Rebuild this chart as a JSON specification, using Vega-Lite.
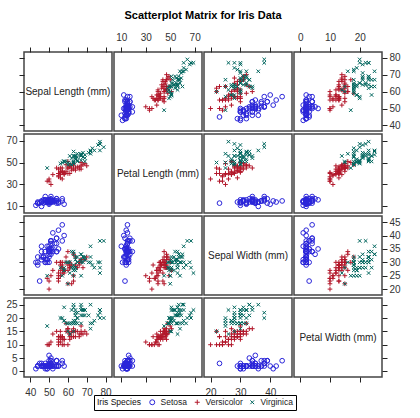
{
"$schema": "https://vega.github.io/schema/vega-lite/v6.json",
"background": "white",
"padding": {"left": 5, "top": 10, "right": 5, "bottom": 4},
"title": {"text": "Scatterplot Matrix for Iris Data", "anchor": "middle", "font": "Liberation Sans", "fontSize": 11, "fontWeight": "bold", "color": "#000", "offset": 10},
"data": {"name": "iris", "values": [
{"Species":"Setosa","SL":51,"SW":35,"PL":14,"PW":2},{"Species":"Setosa","SL":49,"SW":30,"PL":14,"PW":2},{"Species":"Setosa","SL":47,"SW":32,"PL":13,"PW":2},{"Species":"Setosa","SL":46,"SW":31,"PL":15,"PW":2},{"Species":"Setosa","SL":50,"SW":36,"PL":14,"PW":2},
{"Species":"Setosa","SL":54,"SW":39,"PL":17,"PW":4},{"Species":"Setosa","SL":46,"SW":34,"PL":14,"PW":3},{"Species":"Setosa","SL":50,"SW":34,"PL":15,"PW":2},{"Species":"Setosa","SL":44,"SW":29,"PL":14,"PW":2},{"Species":"Setosa","SL":49,"SW":31,"PL":15,"PW":1},
{"Species":"Setosa","SL":54,"SW":37,"PL":15,"PW":2},{"Species":"Setosa","SL":48,"SW":34,"PL":16,"PW":2},{"Species":"Setosa","SL":48,"SW":30,"PL":14,"PW":1},{"Species":"Setosa","SL":43,"SW":30,"PL":11,"PW":1},{"Species":"Setosa","SL":58,"SW":40,"PL":12,"PW":2},
{"Species":"Setosa","SL":57,"SW":44,"PL":15,"PW":4},{"Species":"Setosa","SL":54,"SW":39,"PL":13,"PW":4},{"Species":"Setosa","SL":51,"SW":35,"PL":14,"PW":3},{"Species":"Setosa","SL":57,"SW":38,"PL":17,"PW":3},{"Species":"Setosa","SL":51,"SW":38,"PL":15,"PW":3},
{"Species":"Setosa","SL":54,"SW":34,"PL":17,"PW":2},{"Species":"Setosa","SL":51,"SW":37,"PL":15,"PW":4},{"Species":"Setosa","SL":46,"SW":36,"PL":10,"PW":2},{"Species":"Setosa","SL":51,"SW":33,"PL":17,"PW":5},{"Species":"Setosa","SL":48,"SW":34,"PL":19,"PW":2},
{"Species":"Setosa","SL":50,"SW":30,"PL":16,"PW":2},{"Species":"Setosa","SL":50,"SW":34,"PL":16,"PW":4},{"Species":"Setosa","SL":52,"SW":35,"PL":15,"PW":2},{"Species":"Setosa","SL":52,"SW":34,"PL":14,"PW":2},{"Species":"Setosa","SL":47,"SW":32,"PL":16,"PW":2},
{"Species":"Setosa","SL":48,"SW":31,"PL":16,"PW":2},{"Species":"Setosa","SL":54,"SW":34,"PL":15,"PW":4},{"Species":"Setosa","SL":52,"SW":41,"PL":15,"PW":1},{"Species":"Setosa","SL":55,"SW":42,"PL":14,"PW":2},{"Species":"Setosa","SL":49,"SW":31,"PL":15,"PW":2},
{"Species":"Setosa","SL":50,"SW":32,"PL":12,"PW":2},{"Species":"Setosa","SL":55,"SW":35,"PL":13,"PW":2},{"Species":"Setosa","SL":49,"SW":36,"PL":14,"PW":1},{"Species":"Setosa","SL":44,"SW":30,"PL":13,"PW":2},{"Species":"Setosa","SL":51,"SW":34,"PL":15,"PW":2},
{"Species":"Setosa","SL":50,"SW":35,"PL":13,"PW":3},{"Species":"Setosa","SL":45,"SW":23,"PL":13,"PW":3},{"Species":"Setosa","SL":44,"SW":32,"PL":13,"PW":2},{"Species":"Setosa","SL":50,"SW":35,"PL":16,"PW":6},{"Species":"Setosa","SL":51,"SW":38,"PL":19,"PW":4},
{"Species":"Setosa","SL":48,"SW":30,"PL":14,"PW":3},{"Species":"Setosa","SL":51,"SW":38,"PL":16,"PW":2},{"Species":"Setosa","SL":46,"SW":32,"PL":14,"PW":2},{"Species":"Setosa","SL":53,"SW":37,"PL":15,"PW":2},{"Species":"Setosa","SL":50,"SW":33,"PL":14,"PW":2},
{"Species":"Versicolor","SL":70,"SW":32,"PL":47,"PW":14},{"Species":"Versicolor","SL":64,"SW":32,"PL":45,"PW":15},{"Species":"Versicolor","SL":69,"SW":31,"PL":49,"PW":15},{"Species":"Versicolor","SL":55,"SW":23,"PL":40,"PW":13},{"Species":"Versicolor","SL":65,"SW":28,"PL":46,"PW":15},
{"Species":"Versicolor","SL":57,"SW":28,"PL":45,"PW":13},{"Species":"Versicolor","SL":63,"SW":33,"PL":47,"PW":16},{"Species":"Versicolor","SL":49,"SW":24,"PL":33,"PW":10},{"Species":"Versicolor","SL":66,"SW":29,"PL":46,"PW":13},{"Species":"Versicolor","SL":52,"SW":27,"PL":39,"PW":14},
{"Species":"Versicolor","SL":50,"SW":20,"PL":35,"PW":10},{"Species":"Versicolor","SL":59,"SW":30,"PL":42,"PW":15},{"Species":"Versicolor","SL":60,"SW":22,"PL":40,"PW":10},{"Species":"Versicolor","SL":61,"SW":29,"PL":47,"PW":14},{"Species":"Versicolor","SL":56,"SW":29,"PL":36,"PW":13},
{"Species":"Versicolor","SL":67,"SW":31,"PL":44,"PW":14},{"Species":"Versicolor","SL":56,"SW":30,"PL":45,"PW":15},{"Species":"Versicolor","SL":58,"SW":27,"PL":41,"PW":10},{"Species":"Versicolor","SL":62,"SW":22,"PL":45,"PW":15},{"Species":"Versicolor","SL":56,"SW":25,"PL":39,"PW":11},
{"Species":"Versicolor","SL":59,"SW":32,"PL":48,"PW":18},{"Species":"Versicolor","SL":61,"SW":28,"PL":40,"PW":13},{"Species":"Versicolor","SL":63,"SW":25,"PL":49,"PW":15},{"Species":"Versicolor","SL":61,"SW":28,"PL":47,"PW":12},{"Species":"Versicolor","SL":64,"SW":29,"PL":43,"PW":13},
{"Species":"Versicolor","SL":66,"SW":30,"PL":44,"PW":14},{"Species":"Versicolor","SL":68,"SW":28,"PL":48,"PW":14},{"Species":"Versicolor","SL":67,"SW":30,"PL":50,"PW":17},{"Species":"Versicolor","SL":60,"SW":29,"PL":45,"PW":15},{"Species":"Versicolor","SL":57,"SW":26,"PL":35,"PW":10},
{"Species":"Versicolor","SL":55,"SW":24,"PL":38,"PW":11},{"Species":"Versicolor","SL":55,"SW":24,"PL":37,"PW":10},{"Species":"Versicolor","SL":58,"SW":27,"PL":39,"PW":12},{"Species":"Versicolor","SL":60,"SW":27,"PL":51,"PW":16},{"Species":"Versicolor","SL":54,"SW":30,"PL":45,"PW":15},
{"Species":"Versicolor","SL":60,"SW":34,"PL":45,"PW":16},{"Species":"Versicolor","SL":67,"SW":31,"PL":47,"PW":15},{"Species":"Versicolor","SL":63,"SW":23,"PL":44,"PW":13},{"Species":"Versicolor","SL":56,"SW":30,"PL":41,"PW":13},{"Species":"Versicolor","SL":55,"SW":25,"PL":40,"PW":13},
{"Species":"Versicolor","SL":55,"SW":26,"PL":44,"PW":12},{"Species":"Versicolor","SL":61,"SW":30,"PL":46,"PW":14},{"Species":"Versicolor","SL":58,"SW":26,"PL":40,"PW":12},{"Species":"Versicolor","SL":50,"SW":23,"PL":33,"PW":10},{"Species":"Versicolor","SL":56,"SW":27,"PL":42,"PW":13},
{"Species":"Versicolor","SL":57,"SW":30,"PL":42,"PW":12},{"Species":"Versicolor","SL":57,"SW":29,"PL":42,"PW":13},{"Species":"Versicolor","SL":62,"SW":29,"PL":43,"PW":13},{"Species":"Versicolor","SL":51,"SW":25,"PL":30,"PW":11},{"Species":"Versicolor","SL":57,"SW":28,"PL":41,"PW":13},
{"Species":"Virginica","SL":63,"SW":33,"PL":60,"PW":25},{"Species":"Virginica","SL":58,"SW":27,"PL":51,"PW":19},{"Species":"Virginica","SL":71,"SW":30,"PL":59,"PW":21},{"Species":"Virginica","SL":63,"SW":29,"PL":56,"PW":18},{"Species":"Virginica","SL":65,"SW":30,"PL":58,"PW":22},
{"Species":"Virginica","SL":76,"SW":30,"PL":66,"PW":21},{"Species":"Virginica","SL":49,"SW":25,"PL":45,"PW":17},{"Species":"Virginica","SL":73,"SW":29,"PL":63,"PW":18},{"Species":"Virginica","SL":67,"SW":25,"PL":58,"PW":18},{"Species":"Virginica","SL":72,"SW":36,"PL":61,"PW":25},
{"Species":"Virginica","SL":65,"SW":32,"PL":51,"PW":20},{"Species":"Virginica","SL":64,"SW":27,"PL":53,"PW":19},{"Species":"Virginica","SL":68,"SW":30,"PL":55,"PW":21},{"Species":"Virginica","SL":57,"SW":25,"PL":50,"PW":20},{"Species":"Virginica","SL":58,"SW":28,"PL":51,"PW":24},
{"Species":"Virginica","SL":64,"SW":32,"PL":53,"PW":23},{"Species":"Virginica","SL":65,"SW":30,"PL":55,"PW":18},{"Species":"Virginica","SL":77,"SW":38,"PL":67,"PW":22},{"Species":"Virginica","SL":77,"SW":26,"PL":69,"PW":23},{"Species":"Virginica","SL":60,"SW":22,"PL":50,"PW":15},
{"Species":"Virginica","SL":69,"SW":32,"PL":57,"PW":23},{"Species":"Virginica","SL":56,"SW":28,"PL":49,"PW":20},{"Species":"Virginica","SL":77,"SW":28,"PL":67,"PW":20},{"Species":"Virginica","SL":63,"SW":27,"PL":49,"PW":18},{"Species":"Virginica","SL":67,"SW":33,"PL":57,"PW":21},
{"Species":"Virginica","SL":72,"SW":32,"PL":60,"PW":18},{"Species":"Virginica","SL":62,"SW":28,"PL":48,"PW":18},{"Species":"Virginica","SL":61,"SW":30,"PL":49,"PW":18},{"Species":"Virginica","SL":64,"SW":28,"PL":56,"PW":21},{"Species":"Virginica","SL":72,"SW":30,"PL":58,"PW":16},
{"Species":"Virginica","SL":74,"SW":28,"PL":61,"PW":19},{"Species":"Virginica","SL":79,"SW":38,"PL":64,"PW":20},{"Species":"Virginica","SL":64,"SW":28,"PL":56,"PW":22},{"Species":"Virginica","SL":63,"SW":28,"PL":51,"PW":15},{"Species":"Virginica","SL":61,"SW":26,"PL":56,"PW":14},
{"Species":"Virginica","SL":77,"SW":30,"PL":61,"PW":23},{"Species":"Virginica","SL":63,"SW":34,"PL":56,"PW":24},{"Species":"Virginica","SL":64,"SW":31,"PL":55,"PW":18},{"Species":"Virginica","SL":60,"SW":30,"PL":48,"PW":18},{"Species":"Virginica","SL":69,"SW":31,"PL":54,"PW":21},
{"Species":"Virginica","SL":67,"SW":31,"PL":56,"PW":24},{"Species":"Virginica","SL":69,"SW":31,"PL":51,"PW":23},{"Species":"Virginica","SL":58,"SW":27,"PL":51,"PW":19},{"Species":"Virginica","SL":68,"SW":32,"PL":59,"PW":23},{"Species":"Virginica","SL":67,"SW":33,"PL":57,"PW":25},
{"Species":"Virginica","SL":67,"SW":30,"PL":52,"PW":23},{"Species":"Virginica","SL":63,"SW":25,"PL":50,"PW":19},{"Species":"Virginica","SL":65,"SW":30,"PL":52,"PW":20},{"Species":"Virginica","SL":62,"SW":34,"PL":54,"PW":23},{"Species":"Virginica","SL":59,"SW":30,"PL":51,"PW":18}
]},
"columns": 4,
"spacing": {"row": 3, "column": 2},
"bounds": "flush",
"resolve": {"scale": {"x": "independent", "y": "independent"}, "axis": {"x": "independent", "y": "independent"}},
"concat": [
{"width": 88, "height": 79, "data": {"values": [{"label": "Sepal Length (mm)"}]}, "mark": {"type": "text", "font": "Liberation Sans", "fontSize": 10, "color": "#222"},
 "encoding": {"text": {"field": "label"},
  "x": {"datum": 60, "type": "quantitative", "scale": {"domain": [36.7, 83.4], "nice": false, "zero": false}, "axis": {"orient": "top", "values": [40,50,60,70,80], "labels": false, "title": null}},
  "y": {"datum": 60, "type": "quantitative", "scale": {"domain": [36.7, 83.4], "nice": false, "zero": false}, "axis": {"orient": "left", "values": [40,50,60,70,80], "labels": false, "title": null}}}},
{"width": 88, "height": 79, "mark": "point", "encoding": {
  "x": {"field": "PL", "type": "quantitative", "scale": {"domain": [4, 76], "nice": false, "zero": false}, "axis": {"orient": "top", "values": [10,30,50,70], "labelPadding": 5, "title": null}},
  "y": {"field": "SL", "type": "quantitative", "scale": {"domain": [36.7, 83.4], "nice": false, "zero": false}, "axis": null},
  "color": {"field": "Species", "type": "nominal", "scale": {"domain": ["Setosa","Versicolor","Virginica"], "range": ["#2A25D9","#B2182B","#01665E"]}, "legend": {"title": "Iris Species", "orient": "none", "legendX": 70, "legendY": 343, "direction": "horizontal", "titleOrient": "left"}},
  "shape": {"field": "Species", "type": "nominal", "scale": {"domain": ["Setosa","Versicolor","Virginica"], "range": ["circle","M-1,0H1M0,-1V1","M-0.75,-0.75L0.75,0.75M0.75,-0.75L-0.75,0.75"]}, "legend": {"title": "Iris Species", "orient": "none", "legendX": 70, "legendY": 343, "direction": "horizontal", "titleOrient": "left"}}}},
{"width": 88, "height": 79, "mark": "point", "encoding": {
  "x": {"field": "SW", "type": "quantitative", "scale": {"domain": [17.8, 47.3], "nice": false, "zero": false}, "axis": {"orient": "top", "values": [20,30,40], "labels": false, "title": null}},
  "y": {"field": "SL", "type": "quantitative", "scale": {"domain": [36.7, 83.4], "nice": false, "zero": false}, "axis": null},
  "color": {"field": "Species", "type": "nominal"},
  "shape": {"field": "Species", "type": "nominal"}}},
{"width": 88, "height": 79, "mark": "point", "encoding": {
  "x": {"field": "PW", "type": "quantitative", "scale": {"domain": [-2.1, 27.5], "nice": false, "zero": false}, "axis": {"orient": "top", "values": [0,10,20], "labelPadding": 5, "title": null}},
  "y": {"field": "SL", "type": "quantitative", "scale": {"domain": [36.7, 83.4], "nice": false, "zero": false}, "axis": {"orient": "right", "values": [40,50,60,70,80], "labelPadding": 2, "title": null}},
  "color": {"field": "Species", "type": "nominal"},
  "shape": {"field": "Species", "type": "nominal"}}},

{"width": 88, "height": 79, "mark": "point", "encoding": {
  "x": {"field": "SL", "type": "quantitative", "scale": {"domain": [36.7, 83.4], "nice": false, "zero": false}, "axis": null},
  "y": {"field": "PL", "type": "quantitative", "scale": {"domain": [4, 76], "nice": false, "zero": false}, "axis": {"orient": "left", "values": [10,30,50,70], "labelPadding": 2, "title": null}},
  "color": {"field": "Species", "type": "nominal"},
  "shape": {"field": "Species", "type": "nominal"}}},
{"width": 88, "height": 79, "data": {"values": [{"label": "Petal Length (mm)"}]}, "mark": {"type": "text", "font": "Liberation Sans", "fontSize": 10, "color": "#222"},
 "encoding": {"text": {"field": "label"},
  "x": {"datum": 40, "type": "quantitative", "scale": {"domain": [4, 76], "nice": false, "zero": false}, "axis": null},
  "y": {"datum": 40, "type": "quantitative", "scale": {"domain": [4, 76], "nice": false, "zero": false}, "axis": null}}},
{"width": 88, "height": 79, "mark": "point", "encoding": {
  "x": {"field": "SW", "type": "quantitative", "scale": {"domain": [17.8, 47.3], "nice": false, "zero": false}, "axis": null},
  "y": {"field": "PL", "type": "quantitative", "scale": {"domain": [4, 76], "nice": false, "zero": false}, "axis": null},
  "color": {"field": "Species", "type": "nominal"},
  "shape": {"field": "Species", "type": "nominal"}}},
{"width": 88, "height": 79, "mark": "point", "encoding": {
  "x": {"field": "PW", "type": "quantitative", "scale": {"domain": [-2.1, 27.5], "nice": false, "zero": false}, "axis": null},
  "y": {"field": "PL", "type": "quantitative", "scale": {"domain": [4, 76], "nice": false, "zero": false}, "axis": {"orient": "right", "values": [10,30,50,70], "labels": false, "title": null}},
  "color": {"field": "Species", "type": "nominal"},
  "shape": {"field": "Species", "type": "nominal"}}},

{"width": 88, "height": 79, "mark": "point", "encoding": {
  "x": {"field": "SL", "type": "quantitative", "scale": {"domain": [36.7, 83.4], "nice": false, "zero": false}, "axis": null},
  "y": {"field": "SW", "type": "quantitative", "scale": {"domain": [17.8, 47.3], "nice": false, "zero": false}, "axis": {"orient": "left", "values": [20,25,30,35,40,45], "labels": false, "title": null}},
  "color": {"field": "Species", "type": "nominal"},
  "shape": {"field": "Species", "type": "nominal"}}},
{"width": 88, "height": 79, "mark": "point", "encoding": {
  "x": {"field": "PL", "type": "quantitative", "scale": {"domain": [4, 76], "nice": false, "zero": false}, "axis": null},
  "y": {"field": "SW", "type": "quantitative", "scale": {"domain": [17.8, 47.3], "nice": false, "zero": false}, "axis": null},
  "color": {"field": "Species", "type": "nominal"},
  "shape": {"field": "Species", "type": "nominal"}}},
{"width": 88, "height": 79, "data": {"values": [{"label": "Sepal Width (mm)"}]}, "mark": {"type": "text", "font": "Liberation Sans", "fontSize": 10, "color": "#222"},
 "encoding": {"text": {"field": "label"},
  "x": {"datum": 32.55, "type": "quantitative", "scale": {"domain": [17.8, 47.3], "nice": false, "zero": false}, "axis": null},
  "y": {"datum": 32.55, "type": "quantitative", "scale": {"domain": [17.8, 47.3], "nice": false, "zero": false}, "axis": null}}},
{"width": 88, "height": 79, "mark": "point", "encoding": {
  "x": {"field": "PW", "type": "quantitative", "scale": {"domain": [-2.1, 27.5], "nice": false, "zero": false}, "axis": null},
  "y": {"field": "SW", "type": "quantitative", "scale": {"domain": [17.8, 47.3], "nice": false, "zero": false}, "axis": {"orient": "right", "values": [20,25,30,35,40,45], "labelPadding": 2, "title": null}},
  "color": {"field": "Species", "type": "nominal"},
  "shape": {"field": "Species", "type": "nominal"}}},

{"width": 88, "height": 79, "mark": "point", "encoding": {
  "x": {"field": "SL", "type": "quantitative", "scale": {"domain": [36.7, 83.4], "nice": false, "zero": false}, "axis": {"orient": "bottom", "values": [40,50,60,70,80], "labelPadding": 5, "title": null}},
  "y": {"field": "PW", "type": "quantitative", "scale": {"domain": [-2.1, 27.5], "nice": false, "zero": false}, "axis": {"orient": "left", "values": [0,5,10,15,20,25], "labelPadding": 2, "title": null}},
  "color": {"field": "Species", "type": "nominal"},
  "shape": {"field": "Species", "type": "nominal"}}},
{"width": 88, "height": 79, "mark": "point", "encoding": {
  "x": {"field": "PL", "type": "quantitative", "scale": {"domain": [4, 76], "nice": false, "zero": false}, "axis": {"orient": "bottom", "values": [10,30,50,70], "labels": false, "title": null}},
  "y": {"field": "PW", "type": "quantitative", "scale": {"domain": [-2.1, 27.5], "nice": false, "zero": false}, "axis": null},
  "color": {"field": "Species", "type": "nominal"},
  "shape": {"field": "Species", "type": "nominal"}}},
{"width": 88, "height": 79, "mark": "point", "encoding": {
  "x": {"field": "SW", "type": "quantitative", "scale": {"domain": [17.8, 47.3], "nice": false, "zero": false}, "axis": {"orient": "bottom", "values": [20,30,40], "labelPadding": 5, "title": null}},
  "y": {"field": "PW", "type": "quantitative", "scale": {"domain": [-2.1, 27.5], "nice": false, "zero": false}, "axis": null},
  "color": {"field": "Species", "type": "nominal"},
  "shape": {"field": "Species", "type": "nominal"}}},
{"width": 88, "height": 79, "data": {"values": [{"label": "Petal Width (mm)"}]}, "mark": {"type": "text", "font": "Liberation Sans", "fontSize": 10, "color": "#222"},
 "encoding": {"text": {"field": "label"},
  "x": {"datum": 12.7, "type": "quantitative", "scale": {"domain": [-2.1, 27.5], "nice": false, "zero": false}, "axis": {"orient": "bottom", "values": [0,10,20], "labels": false, "title": null}},
  "y": {"datum": 12.7, "type": "quantitative", "scale": {"domain": [-2.1, 27.5], "nice": false, "zero": false}, "axis": {"orient": "right", "values": [0,5,10,15,20,25], "labels": false, "title": null}}}}
],
"config": {
  "view": {"stroke": "#444", "strokeWidth": 1.5},
  "axis": {"domain": false, "grid": false, "tickSize": 5, "tickColor": "#222", "tickWidth": 1, "labelFont": "Liberation Sans", "labelFontSize": 10, "labelColor": "#333", "labelFlush": false, "labelOverlap": false},
  "point": {"filled": false, "size": 22, "strokeWidth": 1, "opacity": 1},
  "legend": {"strokeColor": "#000", "strokeWidth": 1, "padding": 3, "fillColor": "#fff", "gridAlign": "none", "titleFont": "Liberation Sans", "titleFontSize": 8.5, "titleFontWeight": "normal", "titleColor": "#111", "titlePadding": 7, "labelFont": "Liberation Sans", "labelFontSize": 8.5, "labelColor": "#222", "symbolSize": 25, "symbolStrokeWidth": 1, "columnPadding": 5, "labelOffset": 4}
}
}
